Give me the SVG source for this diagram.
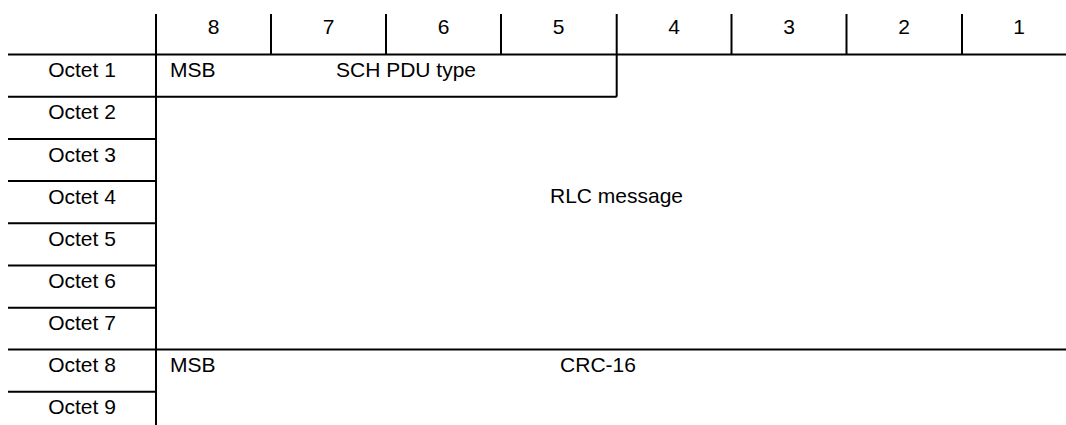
<svg xmlns="http://www.w3.org/2000/svg" width="1066" height="425" viewBox="0 0 1066 425">
<style>
.l{stroke:#000;stroke-width:2;fill:none}
text{font-family:"Liberation Sans",Arial,sans-serif;font-size:21px;fill:#000}
.c{text-anchor:middle}
</style>
<rect width="1066" height="425" fill="#fff"/>
<g id="connectors">
<path class="l" d="M156,14V425M271,14V54.5M386,14V54.5M501,14V54.5M616.7,14V96.7M731.5,14V54.5M846.5,14V54.5M962,14V54.5"/>
<path class="l" d="M8,54.5H1066M8,96.7H616.7M8,139H156M8,181H156M8,223.3H156M8,265.5H156M8,307.7H156M8,349.5H1066M8,391.7H156"/>
</g>
<g id="header">
<text class="c" x="213.5" y="34">8</text>
<text class="c" x="328.5" y="34">7</text>
<text class="c" x="443.5" y="34">6</text>
<text class="c" x="558.5" y="34">5</text>
<text class="c" x="674" y="34">4</text>
<text class="c" x="789" y="34">3</text>
<text class="c" x="904" y="34">2</text>
<text class="c" x="1019" y="34">1</text>
</g>
<g id="rows">
<text class="c" x="82" y="77">Octet 1</text>
<text class="c" x="82" y="119">Octet 2</text>
<text class="c" x="82" y="161.5">Octet 3</text>
<text class="c" x="82" y="203.5">Octet 4</text>
<text class="c" x="82" y="245.5">Octet 5</text>
<text class="c" x="82" y="288">Octet 6</text>
<text class="c" x="82" y="330">Octet 7</text>
<text class="c" x="82" y="372">Octet 8</text>
<text class="c" x="82" y="414">Octet 9</text>
</g>
<g id="field-sch">
<text x="170" y="77">MSB</text>
<text x="336" y="77">SCH PDU type</text>
</g>
<g id="field-rlc">
<text class="c" x="616.5" y="203">RLC message</text>
</g>
<g id="field-crc">
<text x="170" y="372">MSB</text>
<text class="c" x="598" y="372">CRC-16</text>
</g>
</svg>
